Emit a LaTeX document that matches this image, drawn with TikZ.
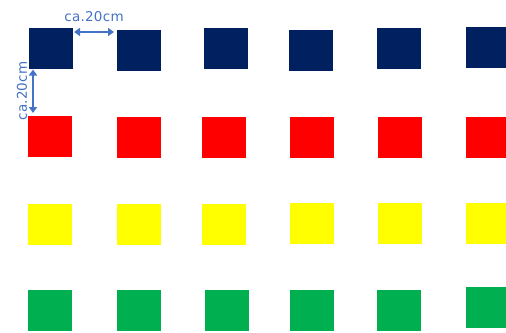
\documentclass[tikz,border=0pt]{standalone}
\usepackage{fontspec}
\newfontfamily\lblfont[LetterSpace=2]{DejaVu Sans}
\usetikzlibrary{arrows.meta}
\definecolor{navy}{HTML}{002060}
\definecolor{cred}{HTML}{FF0000}
\definecolor{cyel}{HTML}{FFFF00}
\definecolor{cgrn}{HTML}{00B050}
\definecolor{dimblue}{HTML}{4472C4}
\tikzset{
  sq/.style={rectangle, minimum width=44pt, minimum height=41pt, inner sep=0pt, draw=none},
  dimarrow/.style={draw=dimblue, line width=1.5pt, {Triangle[length=6pt,width=8pt]}-{Triangle[length=6pt,width=8pt]}},
  dimlabel/.style={text=dimblue, font=\lblfont\fontsize{13.5}{15}\selectfont, inner sep=0pt}
}
\begin{document}
\begin{tikzpicture}[x=1pt,y=-1pt]
\clip (0,0) rectangle (506,332);
\fill[white] (0,0) rectangle (506,332);
% navy row
\node[sq, fill=navy] (n1) at (51,48) {};
\node[sq, fill=navy] (n2) at (139,50.5) {};
\node[sq, fill=navy] (n3) at (226,48) {};
\node[sq, fill=navy] (n4) at (311,50.5) {};
\node[sq, fill=navy] (n5) at (399,48) {};
\node[sq, fill=navy] (n6) at (488,47.5) {};
% red row
\node[sq, fill=cred] (r1) at (50,136) {};
\node[sq, fill=cred] (r2) at (139,137) {};
\node[sq, fill=cred] (r3) at (224,137) {};
\node[sq, fill=cred] (r4) at (312,137) {};
\node[sq, fill=cred] (r5) at (400,137) {};
\node[sq, fill=cred] (r6) at (488,137) {};
% yellow row
\node[sq, fill=cyel] (y1) at (50,224.5) {};
\node[sq, fill=cyel] (y2) at (139,224.5) {};
\node[sq, fill=cyel] (y3) at (224,224.5) {};
\node[sq, fill=cyel] (y4) at (312,223.5) {};
\node[sq, fill=cyel] (y5) at (400,223.5) {};
\node[sq, fill=cyel] (y6) at (488,223) {};
% green row
\node[sq, fill=cgrn] (g1) at (50,310.5) {};
\node[sq, fill=cgrn] (g2) at (139,310.5) {};
\node[sq, fill=cgrn] (g3) at (226.5,310.5) {};
\node[sq, fill=cgrn] (g4) at (312,310.5) {};
\node[sq, fill=cgrn] (g5) at (399,310.5) {};
\node[sq, fill=cgrn] (g6) at (488,307.5) {};
% dimension arrows
\coordinate (ha) at (74,32);
\coordinate (hb) at (114,32);
\draw[dimarrow] (ha) -- (hb);
\coordinate (va) at (33,69.5);
\coordinate (vb) at (33,113);
\draw[dimarrow] (va) -- (vb);
\node[dimlabel] (hl) at (94,17) {ca.20cm};
\node[dimlabel, rotate=90] (vl) at (22,91) {ca.20cm};
\end{tikzpicture}
\end{document}
